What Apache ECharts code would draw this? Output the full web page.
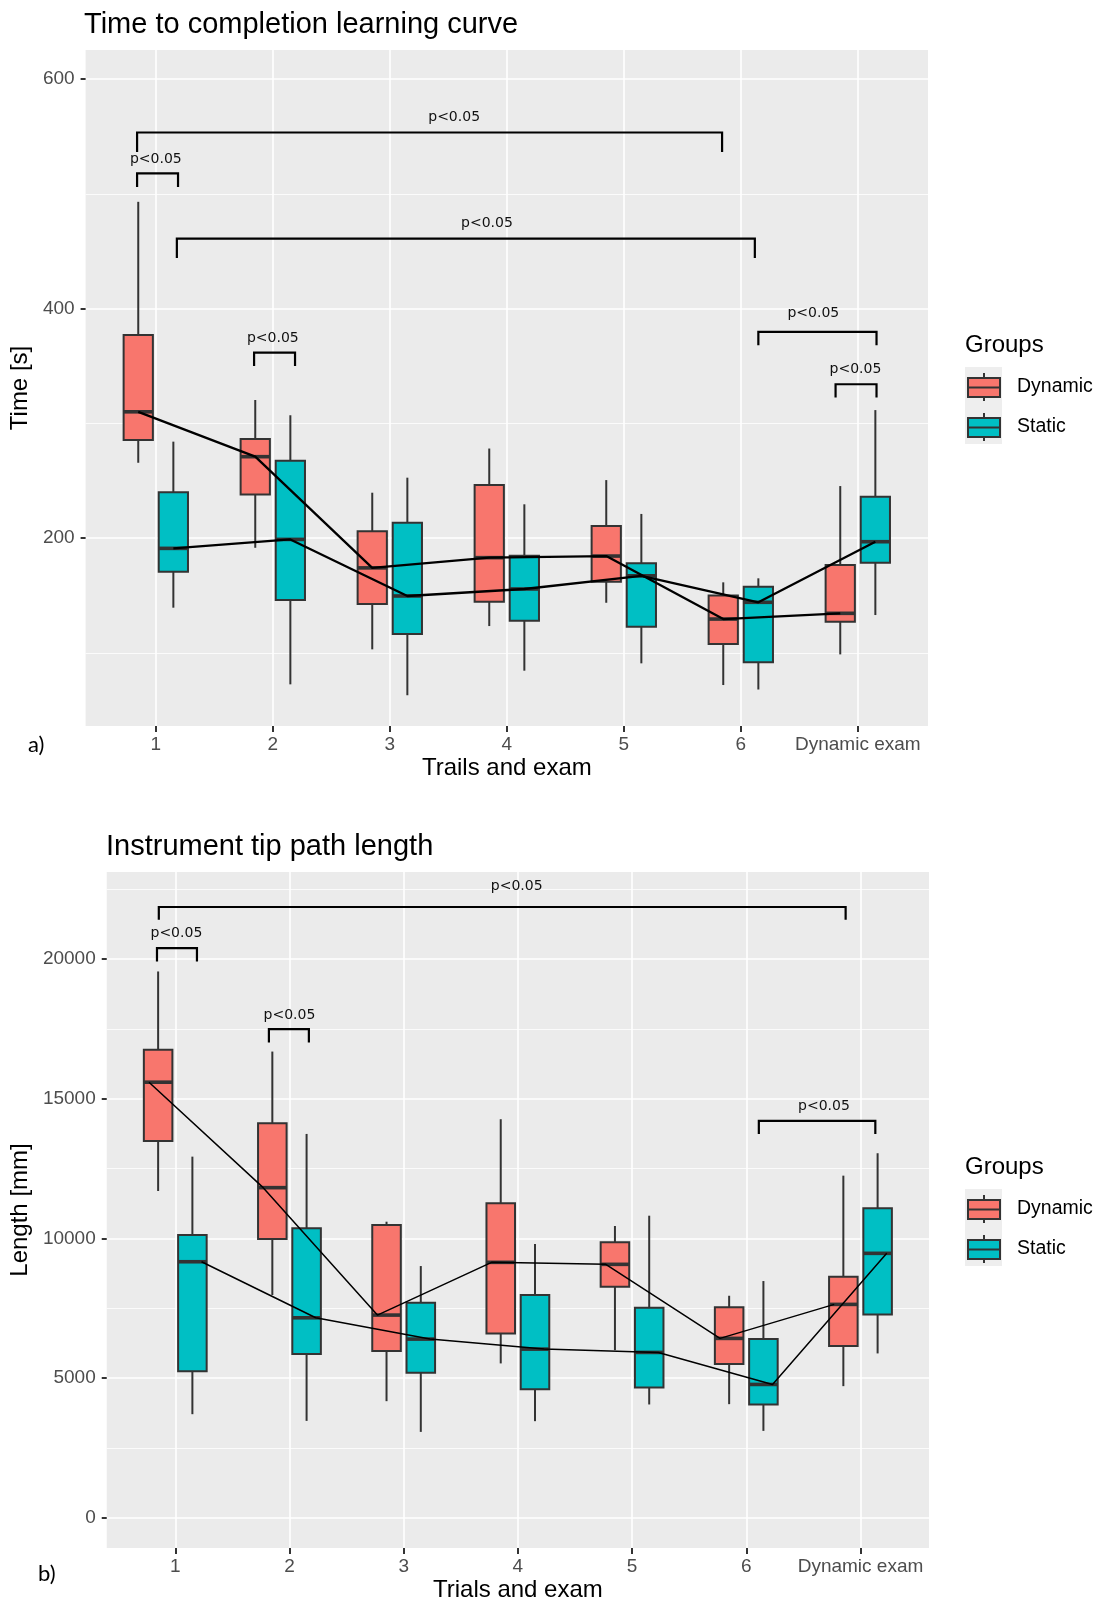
<!DOCTYPE html>
<html>
<head>
<meta charset="utf-8">
<script src="https://cdn.jsdelivr.net/npm/echarts@6/dist/echarts.min.js"></script>
<style>
  html, body { margin: 0; padding: 0; background: #fff; }
  #chart { width: 1096px; height: 1603px; }
</style>
</head>
<body>
<div id="chart"></div>
<script>
const categories = ['1', '2', '3', '4', '5', '6', 'Dynamic exam'];
const groups = ['Dynamic', 'Static'];

// box stats: [lower whisker, Q1, median, Q3, upper whisker]
const timeDynamic = [
  [265.6, 285.4, 310, 377, 493],
  [191.5, 238, 270.9, 286.3, 320.3],
  [103, 142.5, 174, 206, 239.5],
  [123.3, 144.5, 182.9, 246.2, 278],
  [143.6, 162, 184.3, 210.5, 250.5],
  [71.9, 107.6, 129.4, 150, 161.4],
  [98.6, 127, 134.4, 176.5, 245.3]
];
const timeStatic = [
  [139.3, 170.6, 191, 239.8, 284],
  [72.5, 146, 198.8, 267.4, 307],
  [63, 116.3, 149.5, 213.4, 252.6],
  [84.4, 128, 155.6, 184.6, 229.4],
  [90.8, 122.7, 167.1, 178, 221],
  [68, 91.7, 144, 157.6, 164.9],
  [132.9, 178.5, 196.8, 236, 311.5]
];
const lenDynamic = [
  [11695, 13487, 15591, 16749, 19556],
  [7968, 9975, 11814, 14122, 16688],
  [4168, 5961, 7251, 10477, 10595],
  [5520, 6595, 9140, 11254, 14265],
  [5996, 8265, 9068, 9857, 10441],
  [4061, 5495, 6416, 7527, 7943],
  [4706, 6140, 7634, 8624, 12244]
];
const lenStatic = [
  [3702, 5244, 9161, 10118, 12925],
  [3462, 5853, 7154, 10358, 13738],
  [3068, 5183, 6391, 7692, 9007],
  [3452, 4599, 6032, 7968, 9796],
  [4050, 4659, 5914, 7513, 10810],
  [3104, 4050, 4767, 6391, 8470],
  [5878, 7276, 9462, 11075, 13047]
];

// significance brackets: [x from, x to, bar y, tick end y, label x, label y]
const timeBrackets = [
  [0.84, 5.84, 553.4, 536.5, 3.55, 566.5],
  [0.84, 1.19, 517.7, 506, 1.0, 529.9],
  [1.18, 6.12, 461, 444.1, 3.83, 474.1],
  [6.15, 7.16, 379.6, 368, 6.62, 396.2],
  [6.81, 7.16, 334, 322.4, 6.98, 346.8],
  [1.84, 2.19, 361.6, 350, 2.0, 373.8]
];
const lenBrackets = [
  [0.856, 6.87, 21864, 21409, 3.99, 22602],
  [0.84, 1.19, 20394, 19914, 1.01, 20907],
  [1.82, 2.17, 17491, 17011, 2.0, 17968],
  [6.11, 7.13, 14204, 13738, 6.68, 14717]
];

const timeTicks = [200, 400, 600];
const timeMinor = [100, 300, 500];
const lenTicks = [0, 5000, 10000, 15000, 20000];
const lenMinor = [2500, 7500, 12500, 17500, 22500];
const xTicks = [1, 2, 3, 4, 5, 6, 7];
const sigLabel = 'p<0.05';

const FONT = 'Liberation Sans';
const RED = '#F8766D';
const TEAL = '#00BFC4';
const EDGE = '#333333';
const BOX_W = 0.25;
const DODGE = 0.15;

function renderBox(params, api) {
  const x = api.value(0);
  const lo = api.coord([x, api.value(1)]);
  const q1 = api.coord([x, api.value(2)]);
  const md = api.coord([x, api.value(3)]);
  const q3 = api.coord([x, api.value(4)]);
  const hi = api.coord([x, api.value(5)]);
  const w = api.size([BOX_W, 0])[0];
  return {
    type: 'group',
    children: [
      { type: 'line', shape: { x1: hi[0], y1: hi[1], x2: q3[0], y2: q3[1] }, style: { stroke: EDGE, lineWidth: 2 } },
      { type: 'line', shape: { x1: lo[0], y1: lo[1], x2: q1[0], y2: q1[1] }, style: { stroke: EDGE, lineWidth: 2 } },
      { type: 'rect', shape: { x: q3[0] - w / 2, y: q3[1], width: w, height: q1[1] - q3[1] },
        style: { fill: api.visual('color'), stroke: EDGE, lineWidth: 2 } },
      { type: 'line', shape: { x1: md[0] - w / 2, y1: md[1], x2: md[0] + w / 2, y2: md[1] }, style: { stroke: EDGE, lineWidth: 3.6 } }
    ]
  };
}

function bracketRenderer(width) {
  return function (params, api) {
    const a = api.coord([api.value(0), api.value(3)]);
    const b = api.coord([api.value(0), api.value(2)]);
    const c = api.coord([api.value(1), api.value(2)]);
    const d = api.coord([api.value(1), api.value(3)]);
    const t = api.coord([api.value(4), api.value(5)]);
    return {
      type: 'group',
      children: [
        { type: 'polyline', shape: { points: [a, b, c, d] }, style: { stroke: '#000', lineWidth: width, fill: null } },
        { type: 'text', x: t[0], y: t[1],
          style: { text: sigLabel, fill: '#111', font: '14px "DejaVu Sans"', align: 'center', verticalAlign: 'middle' } }
      ]
    };
  };
}

function boxSeries(name, stats, offset, color, idx) {
  return {
    name: name,
    type: 'custom',
    xAxisIndex: idx,
    yAxisIndex: idx * 2,
    itemStyle: { color: color },
    renderItem: renderBox,
    encode: { x: 0, y: [1, 2, 3, 4, 5] },
    data: stats.map((s, i) => [i + 1 + offset].concat(s)),
    z: 2
  };
}

function medianLine(stats, offset, width, idx) {
  return {
    type: 'line',
    xAxisIndex: idx,
    yAxisIndex: idx * 2,
    showSymbol: false,
    silent: true,
    lineStyle: { color: '#000', width: width },
    data: stats.map((s, i) => [i + 1 + offset, s[2]]),
    z: 3
  };
}

function bracketSeries(list, width, idx) {
  return {
    type: 'custom',
    xAxisIndex: idx,
    yAxisIndex: idx * 2,
    silent: true,
    renderItem: bracketRenderer(width),
    encode: { x: [0, 1, 4], y: [2, 3, 5] },
    data: list,
    z: 4
  };
}

function xAxisDef(idx, name) {
  return {
    gridIndex: idx,
    type: 'value',
    position: 'bottom',
    min: 0.4,
    max: 7.6,
    name: name,
    nameLocation: 'middle',
    nameGap: 30,
    nameTextStyle: { fontSize: 24, color: '#000', fontFamily: FONT },
    axisLine: { show: false, onZero: false },
    axisTick: { show: true, inside: false, customValues: xTicks, length: 6, lineStyle: { color: EDGE, width: 2 } },
    axisLabel: { customValues: xTicks, margin: 9, fontSize: 19, color: '#4D4D4D', fontFamily: FONT,
      formatter: v => categories[Math.round(v) - 1] },
    splitLine: { show: true, lineStyle: { color: '#fff', width: 1.6 } }
  };
}

function yAxisDef(idx, min, max, ticks, name, gap) {
  return {
    gridIndex: idx,
    type: 'value',
    min: min,
    max: max,
    name: name,
    nameLocation: 'middle',
    nameRotate: 90,
    nameGap: gap,
    nameTextStyle: { fontSize: 24, color: '#000', fontFamily: FONT },
    axisLine: { show: false, onZero: false },
    axisTick: { show: true, customValues: ticks, length: 5, lineStyle: { color: EDGE, width: 2 } },
    axisLabel: { customValues: ticks, margin: 11, fontSize: 19, color: '#4D4D4D', fontFamily: FONT,
      formatter: v => String(v) },
    splitLine: { show: true, lineStyle: { color: '#fff', width: 1.6 } }
  };
}

function yMinorDef(idx, min, max, ticks) {
  return {
    gridIndex: idx,
    type: 'value',
    min: min,
    max: max,
    position: 'left',
    axisLine: { show: false, onZero: false },
    axisTick: { show: false, customValues: ticks },
    axisLabel: { show: false, customValues: ticks },
    splitLine: { show: true, lineStyle: { color: '#fff', width: 0.8 } }
  };
}

const KEY_ICON = 'path://M16,0L16,5M0,5L32,5L32,24L0,24ZM0,14.5L32,14.5M16,24L16,28';

function legendDef(top) {
  return {
    data: groups,
    orient: 'vertical',
    left: 967,
    top: top,
    padding: 0,
    itemWidth: 32,
    itemHeight: 28,
    itemGap: 10,
    icon: KEY_ICON,
    selectedMode: false,
    itemStyle: { borderColor: EDGE, borderWidth: 2 },
    textStyle: { fontSize: 19.5, color: '#000', fontFamily: FONT, padding: [0, 0, 0, 12] }
  };
}

const titleStyle = (size, fam) => ({ fontSize: size, fontWeight: 'normal', color: '#000', fontFamily: fam || FONT });

const chart = echarts.init(document.getElementById('chart'), null, { renderer: 'canvas' });

chart.setOption({
  animation: false,
  backgroundColor: '#fff',
  textStyle: { fontFamily: FONT },
  title: [
    { text: 'Time to completion learning curve', left: 84, top: 10, padding: 0, textStyle: titleStyle(29) },
    { text: 'Instrument tip path length', left: 106, top: 832, padding: 0, textStyle: titleStyle(29) },
    { text: 'Groups', left: 965, top: 333, padding: 0, textStyle: titleStyle(24) },
    { text: 'Groups', left: 965, top: 1155, padding: 0, textStyle: titleStyle(24) },
    { text: 'a)', left: 28, top: 734, padding: 0, textStyle: titleStyle(22, 'Lato') },
    { text: 'b)', left: 38, top: 1563, padding: 0, textStyle: titleStyle(22, 'Lato') }
  ],
  graphic: [
    { type: 'rect', left: 965, top: 367, shape: { width: 37, height: 77 }, style: { fill: '#EEEEEE' }, z: 0 },
    { type: 'rect', left: 965, top: 1189, shape: { width: 37, height: 77 }, style: { fill: '#EEEEEE' }, z: 0 }
  ],
  legend: [legendDef(372), legendDef(1194)],
  grid: [
    { left: 83, top: 50, width: 845, height: 676, show: true, backgroundColor: '#EBEBEB', borderWidth: 0 },
    { left: 105, top: 872, width: 824, height: 676, show: true, backgroundColor: '#EBEBEB', borderWidth: 0 }
  ],
  xAxis: [xAxisDef(0, 'Trails and exam'), xAxisDef(1, 'Trials and exam')],
  yAxis: [
    yAxisDef(0, 36.2, 625.3, timeTicks, 'Time [s]', 51),
    yMinorDef(0, 36.2, 625.3, timeMinor),
    yAxisDef(1, -1090, 23118, lenTicks, 'Length [mm]', 70),
    yMinorDef(1, -1090, 23118, lenMinor)
  ],
  series: [
    boxSeries('Dynamic', timeDynamic, -DODGE, RED, 0),
    boxSeries('Static', timeStatic, DODGE, TEAL, 0),
    medianLine(timeDynamic, -DODGE, 2.3, 0),
    medianLine(timeStatic, DODGE, 2.3, 0),
    bracketSeries(timeBrackets, 2.2, 0),
    boxSeries('Dynamic', lenDynamic, -DODGE, RED, 1),
    boxSeries('Static', lenStatic, DODGE, TEAL, 1),
    medianLine(lenDynamic, -0.23, 1.5, 1),
    medianLine(lenStatic, 0.23, 1.5, 1),
    bracketSeries(lenBrackets, 2.2, 1)
  ]
});
</script>
</body>
</html>
